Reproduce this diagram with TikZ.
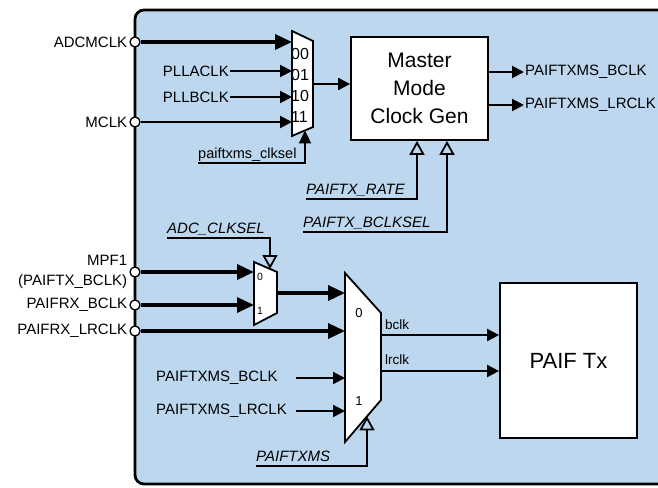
\documentclass[tikz,border=0pt]{standalone}
\usepackage{fontspec}
\setmainfont{Liberation Sans}
\usetikzlibrary{arrows.meta, positioning}
\definecolor{panelblue}{RGB}{189,215,238}

\begin{document}
\begin{tikzpicture}[x=1pt, y=-1pt,
        lbl/.style={font=\fontsize{15}{20}\selectfont, inner sep=1pt},
        sel/.style={font=\fontsize{15}{18}\selectfont\itshape, inner xsep=0pt, inner ysep=2.5pt, text depth=2pt},
        num/.style={font=\fontsize{16}{18}\selectfont, inner sep=0pt},
        pin/.style={draw, circle, fill=white, inner sep=0pt, minimum size=10pt, line width=1.3pt},
        blk/.style={draw, fill=white, line width=1.8pt, align=center},
        mux/.style={draw, fill=white, line width=1.8pt},
        bus/.style={-{Triangle[length=17pt, width=15pt]}, line width=3.5pt},
        sig/.style={-{Triangle[length=12pt, width=12pt]}, line width=2pt},
        ctl/.style={-{Triangle[open, length=14pt, width=15pt]}, line width=1.8pt},
        selin/.style={-{Triangle[length=13pt, width=12pt]}, line width=1.8pt}
    ]
    \useasboundingbox (0,0) rectangle (658,487);
    \draw[line width=2.8pt, fill=panelblue, rounded corners=9pt] (135,10) rectangle (720,484);

    % master clock select mux
    \draw[mux] (292,31) -- (313,41) -- (313,127) -- (292,136) -- cycle;
    \coordinate (m1a) at (292,42);
    \coordinate (m1b) at (292,71);
    \coordinate (m1c) at (292,97);
    \coordinate (m1d) at (292,122);
    \coordinate (m1out) at (313,84);
    \coordinate (m1sel) at (305,130.4);
    \node[num, anchor=west] (n00) at (291,54) {00};
    \node[num, anchor=west] (n01) at (291,75) {01};
    \node[num, anchor=west] (n10) at (291,96) {10};
    \node[num, anchor=west] (n11) at (291,117) {11};

    \node[blk, minimum width=137pt, minimum height=103pt, font=\fontsize{21}{28}\selectfont]
        (mmcg) at (419.5,88.5) {Master\\Mode\\Clock Gen};

    % pins on the panel edge
    \node[pin] (padcm) at (135,42) {};
    \node[pin] (pmclk) at (135,122) {};
    \node[pin] (pmpf) at (135,272) {};
    \node[pin] (prxb) at (135,305) {};
    \node[pin] (prxl) at (135,331) {};
    \node[lbl, left=1pt of padcm] (ladcm) {ADCMCLK};
    \node[lbl, left=1pt of pmclk] (lmclk) {MCLK};
    \node[lbl, left=1pt of pmpf, align=right] (lmpf) {MPF1\\(PAIFTX\_BCLK)};
    \node[lbl, left=1pt of prxb] (lrxb) {PAIFRX\_BCLK};
    \node[lbl, left=1pt of prxl] (lrxl) {PAIFRX\_LRCLK};

    \node[lbl, anchor=east] (lplla) at (230,71) {PLLACLK};
    \node[lbl, anchor=east] (lpllb) at (230,97) {PLLBCLK};
    \node[sel, font=\fontsize{14.5}{17}\selectfont, anchor=south west] (lclksel) at (198,163) {paiftxms\_clksel};

    \node[lbl, anchor=west] (obclk) at (524,72) {PAIFTXMS\_BCLK};
    \node[lbl, anchor=west] (olrclk) at (524,105) {PAIFTXMS\_LRCLK};

    \node[sel, anchor=south west] (lrate) at (306,199) {PAIFTX\_RATE};
    \node[sel, anchor=south west] (lbsel) at (303,232) {PAIFTX\_BCLKSEL};

    % bit clock muxes
    \draw[mux] (254,262) -- (277,272) -- (277,313) -- (254,325) -- cycle;
    \coordinate (m2a) at (254,272);
    \coordinate (m2b) at (254,305);
    \coordinate (m2out) at (277,293);
    \coordinate (m2sel) at (270,269);
    \node[num, font=\fontsize{10.5}{12}\selectfont, anchor=west] (n2a) at (257,277) {0};
    \node[num, font=\fontsize{10.5}{12}\selectfont, anchor=west] (n2b) at (257,311) {1};
    \node[sel, anchor=south west] (ladcsel) at (167,238) {ADC\_CLKSEL};

    \draw[mux] (345,273) -- (381,313) -- (381,400) -- (345,442) -- cycle;
    \coordinate (m3a) at (345,293);
    \coordinate (m3b) at (345,331);
    \coordinate (m3c) at (345,378);
    \coordinate (m3d) at (345,411);
    \coordinate (m3sel) at (367,416.3);
    \coordinate (m3bclk) at (381,335);
    \coordinate (m3lrclk) at (381,371);
    \node[num, font=\fontsize{13}{14}\selectfont] (n3a) at (359,313) {0};
    \node[num, font=\fontsize{13}{14}\selectfont] (n3b) at (359,401) {1};

    \node[lbl, anchor=west] (lmsb) at (155,378) {PAIFTXMS\_BCLK};
    \node[lbl, anchor=west] (lmsl) at (155,411) {PAIFTXMS\_LRCLK};
    \coordinate (cmsb) at (296,378);
    \coordinate (cmsl) at (296,411);
    \node[sel, anchor=south west] (ltxms) at (256,466) {PAIFTXMS};

    \node[blk, minimum width=137pt, minimum height=155pt, font=\fontsize{22}{26}\selectfont]
        (paiftx) at (568.5,360.5) {PAIF Tx};
    \node[lbl, font=\fontsize{13.5}{16}\selectfont, anchor=base west] (lbclk) at (384,329) {bclk};
    \node[lbl, font=\fontsize{13.5}{16}\selectfont, anchor=base west] (llrclk) at (384,364) {lrclk};

    % connectors
    \foreach \a/\b in {padcm/m1a, pmpf/m2a, prxb/m2b, prxl/m3b, m2out/m3a}
        \draw[bus] (\a) -- (\b);
    \foreach \a/\b in {lplla/m1b, lpllb/m1c, pmclk/m1d, cmsb/m3c, cmsl/m3d}
        \draw[sig] (\a) -- (\b);
    \draw[sig] (m1out) -- (m1out -| mmcg.west);
    \draw[sig] (mmcg.east |- obclk) -- (obclk.west);
    \draw[sig] (mmcg.east |- olrclk) -- (olrclk.west);
    \draw[sig] (m3bclk) -- (m3bclk -| paiftx.west);
    \draw[sig] (m3lrclk) -- (m3lrclk -| paiftx.west);

    \draw[selin] (lclksel.south west) -| (m1sel);
    \draw[ctl] (lrate.south west) -| ([xshift=-2.5pt]mmcg.south);
    \draw[ctl] (lbsel.south west) -| ([xshift=27.5pt]mmcg.south);
    \draw[ctl] (ladcsel.south west) -| (m2sel);
    \draw[ctl] (ltxms.south west) -| (m3sel);
\end{tikzpicture}
\end{document}
